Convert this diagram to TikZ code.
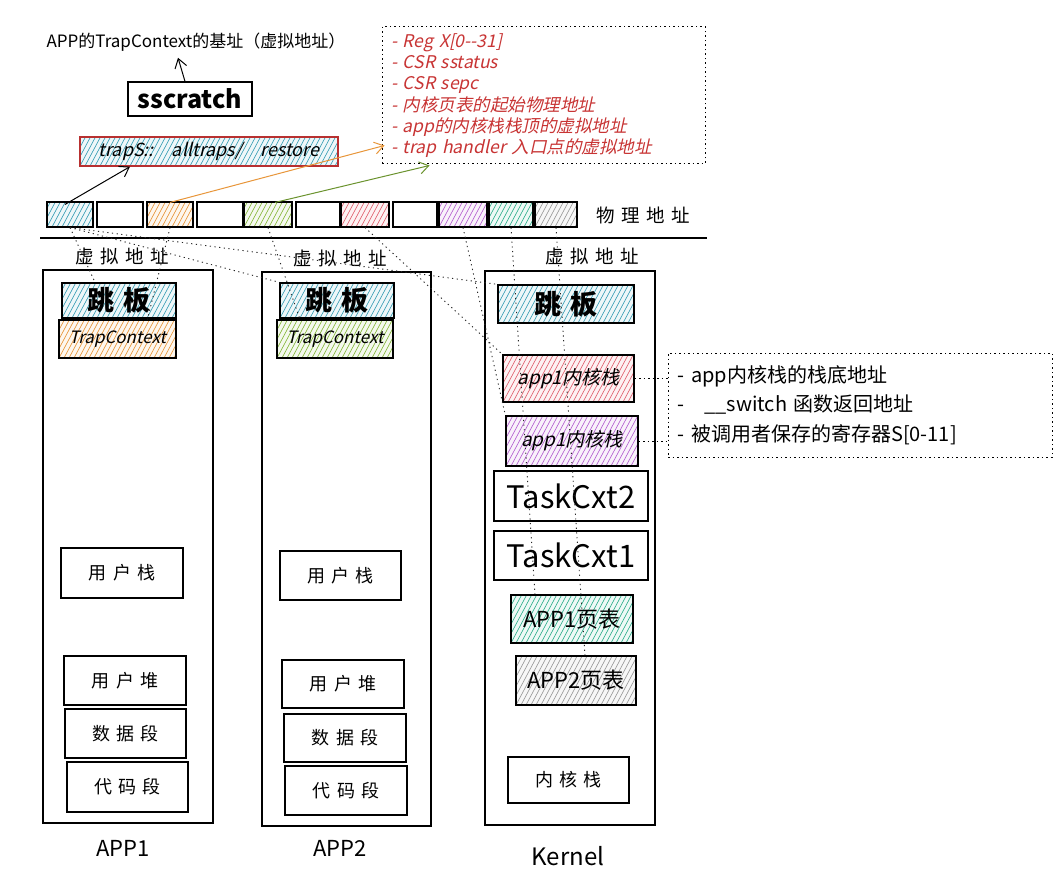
\documentclass[tikz,border=0pt]{standalone}
\usepackage{fontspec}
\setmainfont{Noto Sans CJK SC}
\newfontfamily\slantfont{Noto Sans CJK SC}[FakeSlant=0.22]
\usetikzlibrary{arrows.meta}

\definecolor{hcyan}{HTML}{3A9FB5}
\definecolor{horange}{HTML}{E8963A}
\definecolor{hgreen}{HTML}{86B83A}
\definecolor{hred}{HTML}{E0606E}
\definecolor{hpurple}{HTML}{B45FD0}
\definecolor{hteal}{HTML}{2FAF8C}
\definecolor{hgrey}{HTML}{9A9A9A}
\definecolor{tred}{HTML}{C83434}
\definecolor{bred}{HTML}{B83030}

\newcommand\gapx{\hspace{0.35em}}

\tikzset{
  sz/.style 2 args={minimum width=#1pt, minimum height=#2pt},
  colbox/.style={draw=black, line width=1.1pt, inner sep=0pt},
  seg/.style={draw=black, line width=1.3pt, inner sep=0pt, font=\fontsize{18}{20}\selectfont},
  phys/.style={draw=black, line width=1.1pt, inner sep=0pt},
  % diagonal hatching drawn inside the node outline
  hatch/.style={fill=#1!8, path picture={
      \foreach \k in {-40,-35,...,265}{
        \draw[#1, line width=0.65pt]
          ([xshift=\k pt]path picture bounding box.south west) -- ++(32pt,60pt);
      }}},
  tramp/.style={seg, hatch=hcyan, font=\fontsize{27}{30}\selectfont\bfseries},
  ctx/.style={seg, font=\slantfont\fontsize{17}{19}\selectfont},
  vlabel/.style={font=\fontsize{18.5}{20}\selectfont},
  collabel/.style={font=\fontsize{22}{24}\selectfont},
  mapline/.style={draw=black!85, line width=0.9pt, dash pattern=on 1.2pt off 3.5pt},
  link/.style={line width=1pt, -{Straight Barb[length=9pt,width=12pt]}},
  infobox/.style={draw=black, line width=1pt, dash pattern=on 1.5pt off 3pt, inner sep=0pt},
}

\begin{document}
\begin{tikzpicture}[x=1pt, y=-1pt]
  \useasboundingbox[fill=white] (0,0) rectangle (1058,896);

  % base address note and sscratch
  \node[font=\fontsize{17}{19}\selectfont] (base) at (196,42) {APP的TrapContext的基址（虚拟地址）};
  \node[draw=black, line width=1.2pt, sz={124}{34}, font=\fontsize{25}{27}\selectfont\bfseries] (sscratch) at (190,99) {sscratch};
  \draw[link] ([xshift=-5pt]sscratch.north) -- ([xshift=-18pt,yshift=-3pt]base.south);

  % trampoline code
  \node[draw=bred, line width=1.3pt, hatch=hcyan, sz={258}{29}, font=\slantfont\fontsize{18}{20}\selectfont] (trap) at (209,151.5) {trapS::\quad alltraps/\quad restore};

  % saved trap context fields
  \node[infobox, sz={323}{137}, text width=305pt, align=left, text=tred,
        font=\slantfont\fontsize{17.5}{21.2}\selectfont] (regs) at (543.5,95.5)
    {- Reg X[0--31]\\- CSR sstatus\\- CSR sepc\\- 内核页表的起始物理地址\\- app的内核栈栈顶的虚拟地址\\- trap handler 入口点的虚拟地址};

  % physical memory frames
  \node[phys, hatch=hcyan,   sz={46}{25}] (p1)  at (70,214.5)  {};
  \node[phys,                sz={46}{25}] (p2)  at (120,214.5) {};
  \node[phys, hatch=horange, sz={46}{25}] (p3)  at (170,214.5) {};
  \node[phys,                sz={46}{25}] (p4)  at (220,214.5) {};
  \node[phys, hatch=hgreen,  sz={48}{25}] (p5)  at (268,214.5) {};
  \node[phys,                sz={44}{25}] (p6)  at (318,214.5) {};
  \node[phys, hatch=hred,    sz={48}{25}] (p7)  at (365,214.5) {};
  \node[phys,                sz={44}{25}] (p8)  at (415,214.5) {};
  \node[phys, hatch=hpurple, sz={48}{25}] (p9)  at (463,214.5) {};
  \node[phys, hatch=hteal,   sz={44}{25}] (p10) at (511,214.5) {};
  \node[phys, hatch=hgrey,   sz={42}{25}] (p11) at (556,214.5) {};
  \node[vlabel] (physlabel) at (643,215) {物\gapx 理\gapx 地\gapx 址};

  % physical / virtual divider
  \coordinate (divL) at (40,238);
  \coordinate (divR) at (707,238);
  \draw[line width=1.6pt] (divL) -- (divR);

  % columns
  \node[vlabel] (v1) at (122,256) {虚\gapx 拟\gapx 地\gapx 址};
  \node[vlabel] (v2) at (340,258) {虚\gapx 拟\gapx 地\gapx 址};
  \node[vlabel] (v3) at (592,256) {虚\gapx 拟\gapx 地\gapx 址};

  \node[colbox, sz={170}{553}] (app1) at (128,546.5) {};
  \node[colbox, sz={169}{554}] (app2) at (346.5,549) {};
  \node[colbox, sz={170}{554}] (kern) at (570,548) {};

  \node[collabel] (l1) at (123,848) {APP1};
  \node[collabel] (l2) at (340,848) {APP2};
  \node[collabel, font=\fontsize{24}{26}\selectfont] (l3) at (568,856) {Kernel};

  % APP1 address space
  \node[tramp, sz={114}{35}] (a1tramp) at (119,300.5) {跳\gapx 板};
  \node[ctx, hatch=horange, sz={117}{38}] (a1ctx) at (117.5,339) {TrapContext};
  \node[seg, sz={122}{50}] (a1stack) at (122,573)   {用\gapx 户\gapx 栈};
  \node[seg, sz={122}{49}] (a1heap)  at (125,680.5) {用\gapx 户\gapx 堆};
  \node[seg, sz={121}{49}] (a1data)  at (125.5,733.5) {数\gapx 据\gapx 段};
  \node[seg, sz={121}{50}] (a1code)  at (127.5,787) {代\gapx 码\gapx 段};

  % APP2 address space
  \node[tramp, sz={114}{35}] (a2tramp) at (337,300.5) {跳\gapx 板};
  \node[ctx, hatch=hgreen, sz={116}{38}] (a2ctx) at (335,339) {TrapContext};
  \node[seg, sz={121}{49}] (a2stack) at (340.5,575.5) {用\gapx 户\gapx 栈};
  \node[seg, sz={122}{48}] (a2heap)  at (343,684) {用\gapx 户\gapx 堆};
  \node[seg, sz={122}{48}] (a2data)  at (345,738) {数\gapx 据\gapx 段};
  \node[seg, sz={122}{49}] (a2code)  at (346,790.5) {代\gapx 码\gapx 段};

  % kernel address space
  \node[tramp, sz={136}{38}] (ktramp) at (566,304) {跳\gapx 板};
  \node[seg, hatch=hred, sz={131}{47}, font=\slantfont\fontsize{19}{21}\selectfont] (kstack1) at (568.5,378.5) {app1内核栈};
  \node[seg, hatch=hpurple, sz={132}{50}, font=\slantfont\fontsize{19}{21}\selectfont] (kstack2) at (572,441) {app1内核栈};
  \node[seg, sz={154}{50}, font=\fontsize{31}{33}\selectfont] (tcx2) at (571,496) {TaskCxt2};
  \node[seg, sz={154}{49}, font=\fontsize{31}{33}\selectfont] (tcx1) at (571,555.5) {TaskCxt1};
  \node[seg, hatch=hteal, sz={122}{48}, font=\fontsize{22}{24}\selectfont] (pt1) at (572,619) {APP1页表};
  \node[seg, hatch=hgrey, sz={120}{49}, font=\fontsize{22}{24}\selectfont] (pt2) at (576,680.5) {APP2页表};
  \node[seg, sz={121}{46}, font=\fontsize{18}{20}\selectfont] (kstack) at (568.5,780) {内\gapx 核\gapx 栈};

  % task context contents
  \node[infobox, sz={384}{104}, text width=365pt, align=left,
        font=\fontsize{20}{29.5}\selectfont] (kinfo) at (860,405)
    {- app内核栈的栈底地址\\-\quad \_\_switch 函数返回地址\\- 被调用者保存的寄存器S[0-11]};
  \draw[infobox] (kstack1.east) -- (kstack1.east -| kinfo.west);
  \draw[infobox] (kstack2.east) -- (kstack2.east -| kinfo.west);

  % frames referenced from the trap path
  \draw[link] ([xshift=-5pt,yshift=-3pt]p1.north) -- ([xshift=-79pt]trap.south);
  \draw[link, draw=horange] ([yshift=-1pt]p3.north) -- ([xshift=3pt,yshift=19pt]regs.south west);
  \draw[link, draw=hgreen!80!black] ([xshift=7pt,yshift=-1pt]p5.north) -- ([xshift=48pt,yshift=-1pt]regs.south west);

  % page mappings
  \draw[mapline] (p1.south) -- ([xshift=-24pt]a1tramp.north);
  \draw[mapline] (p1.south) -- (a2tramp.north west);
  \draw[mapline] (p1.south) -- (ktramp.north west);
  \draw[mapline] (p3.south) -- ([xshift=30pt]a1ctx.north);
  \draw[mapline] (p5.south) -- ([xshift=-35pt]a2ctx.north);
  \draw[mapline] (p7.south) -- (kstack1.north west);
  \draw[mapline] (p9.south) -- (kstack2.north west);
  \draw[mapline] (p10.south) -- ([xshift=-37pt]pt1.north);
  \draw[mapline] (p11.south) -- ([xshift=9pt]pt2.north);
\end{tikzpicture}
\end{document}
